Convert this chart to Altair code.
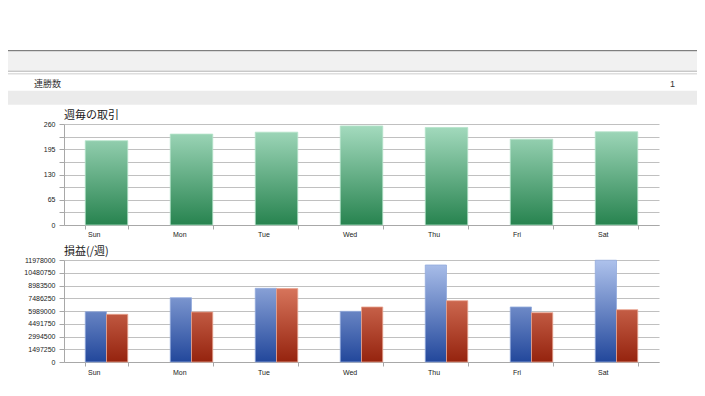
import altair as alt
import pandas as pd

# ---- data ----
days = ["Sun", "Mon", "Tue", "Wed", "Thu", "Fri", "Sat"]
trades = [217, 234, 239, 255, 251, 221, 240]
profit = [5910000, 7550000, 8650000, 5950000, 11390000, 6460000, 11950000]
loss = [5600000, 5870000, 8620000, 6460000, 7200000, 5790000, 6140000]
trade_ticks = [0, 32.5, 65, 97.5, 130, 162.5, 195, 227.5, 260]
pl_ticks = [0, 1497250, 2994500, 4491750, 5989000, 7486250, 8983500, 10480750, 11978000]
header_label = "連勝数"
header_value = "1"
title_trades = "週毎の取引"
title_pl = "損益(/週)"

TRADE_MAX = 260
PL_MAX = 11978000

W, H = 595, 380
LEFT = 56
RIGHT = 689 - LEFT - W
FONT = "Liberation Sans"
CJK = "Noto Sans CJK JP"
GRID = "#c0c0c0"
AXIS = "#a8a8a8"

one = pd.DataFrame({"k": [0]})


def hrect(y, y2, color):
    return alt.Chart(one).mark_rect(color=color).encode(
        x=alt.value(-LEFT), x2=alt.value(W + RIGHT), y=alt.value(y), y2=alt.value(y2)
    )


def label(text, x, y, size, color="#222", font=CJK):
    return alt.Chart(one).mark_text(
        text=text, align="left", baseline="middle", fontSize=size, font=font, color=color
    ).encode(x=alt.value(x), y=alt.value(y))


header = [
    hrect(42, 43.6, "#7f7f7f"),
    hrect(43.6, 62.6, "#f1f1f1"),
    hrect(62.6, 64, "#c8c8c8"),
    hrect(65, 66.6, "#dedede"),
    hrect(82.7, 96.7, "#ebebeb"),
    label(header_label, -30, 75.5, 9, "#333"),
    label(header_value, 606, 75.5, 9, "#333", FONT),
    label(title_trades, 0, 108, 11, "#1a1a1a"),
    label(title_pl, 0, 243.5, 11, "#1a1a1a"),
]


def grad_expr(field, vmax, c0, c1):
    return (
        "{gradient: 'linear', x1: 1, x2: 1, y1: 1 - %d / datum.%s, y2: 1, "
        "stops: [{offset: 0, color: '%s'}, {offset: 1, color: '%s'}]}" % (vmax, field, c0, c1)
    )


def x_axis(offset, pad):
    return alt.Axis(
        orient="bottom", offset=offset, title=None, grid=False, tickBand="extent",
        labelAlign="left", labelOffset=-19, labelAngle=0, labelPadding=pad, tickSize=4,
        labelFont=FONT, labelFontSize=7, labelColor="#222",
        domainColor=AXIS, tickColor=AXIS,
    )


def y_axis(values, fmt, expr=None):
    kw = dict(
        orient="left", values=values, format=fmt, title=None, grid=True, gridColor=GRID,
        tickSize=5, labelPadding=4, labelFont=FONT, labelFontSize=7, labelColor="#222",
        domainColor=AXIS, tickColor=AXIS, labelOverlap=False,
    )
    if expr:
        kw["labelExpr"] = expr
    return alt.Axis(**kw)


band = dict(paddingInner=0.5, paddingOuter=0.25)

# ---- weekly trades chart ----
trade_df = pd.DataFrame({"day": days, "trades": trades})
top_chart = (
    alt.Chart(trade_df)
    .transform_calculate(grad=grad_expr("trades", TRADE_MAX, "#a6dcc0", "#27834f"))
    .mark_bar(stroke="#b4e3c9", strokeWidth=0.8)
    .encode(
        x=alt.X("day:N", sort=days, scale=alt.Scale(domain=days, **band), axis=x_axis(217 - H, 1)),
        y=alt.Y(
            "trades:Q",
            scale=alt.Scale(domain=[0, TRADE_MAX], range=[217, 116], nice=False),
            axis=y_axis(trade_ticks, "d", "datum.value % 65 == 0 ? datum.label : ''"),
        ),
        fill=alt.Fill("grad:N", scale=None),
    )
)

# ---- profit / loss per week chart ----
pl_df = pd.DataFrame({"day": days, "profit": profit, "loss": loss})
xs = alt.X("day:N", sort=days, scale=alt.Scale(domain=days, **band), axis=x_axis(354 - H, 2))
ys = alt.Scale(domain=[0, PL_MAX], range=[354, 252], nice=False)

blue = (
    alt.Chart(pl_df)
    .transform_calculate(series="'a'", val="datum.profit",
                         grad=grad_expr("profit", PL_MAX, "#aec2ec", "#22479b"))
    .mark_bar(stroke="#93abdd", strokeWidth=0.8)
    .encode(
        x=xs,
        xOffset=alt.XOffset("series:N", scale=alt.Scale(domain=["a", "b"])),
        y=alt.Y("val:Q", scale=ys, axis=y_axis(pl_ticks, "d")),
        fill=alt.Fill("grad:N", scale=None),
    )
)
red = (
    alt.Chart(pl_df)
    .transform_calculate(series="'b'", val="datum.loss",
                         grad=grad_expr("loss", PL_MAX, "#f09479", "#95230e"))
    .mark_bar(stroke="#e8a38f", strokeWidth=0.8)
    .encode(
        x=xs,
        xOffset=alt.XOffset("series:N", scale=alt.Scale(domain=["a", "b"])),
        y=alt.Y("val:Q", scale=ys, axis=y_axis(pl_ticks, "d")),
        fill=alt.Fill("grad:N", scale=None),
    )
)
bottom_chart = alt.layer(blue, red)

chart = (
    alt.layer(*header, top_chart, bottom_chart)
    .resolve_scale(x="independent", y="independent")
    .properties(
        width=W,
        height=H,
        padding={"left": LEFT, "top": 0, "right": RIGHT, "bottom": 0},
        autosize=alt.AutoSizeParams(type="none"),
        background="white",
    )
    .configure_view(stroke=None)
)

chart.save("out.html", embed_options={"renderer": "svg", "actions": False})
